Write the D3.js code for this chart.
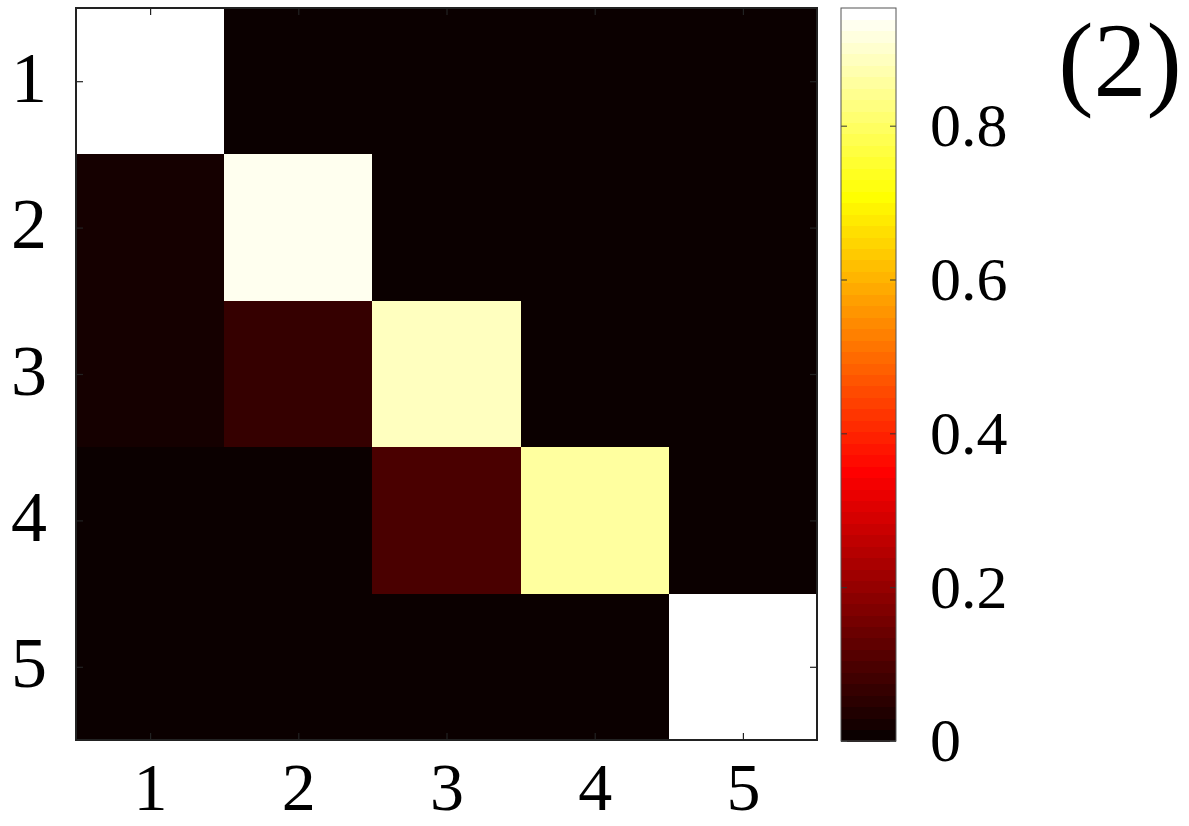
<!DOCTYPE html>
<html>
<head>
<meta charset="utf-8">
<script src="https://cdn.jsdelivr.net/npm/d3@7"></script>
<style>
  body { margin: 0; background: #fff; }
  text { font-family: "Liberation Serif", "Times New Roman", Times, serif; fill: #000; }
</style>
</head>
<body>
<div id="chart"></div>
<script>
// matrix rows/cols labels
const states = [1, 2, 3, 4, 5];
// values (row i, column j)
const matrix = [
  [0.953, 0.006, 0.006, 0.006, 0.006],
  [0.022, 0.930, 0.006, 0.006, 0.006],
  [0.022, 0.068, 0.885, 0.006, 0.006],
  [0.004, 0.004, 0.095, 0.855, 0.006],
  [0.004, 0.004, 0.004, 0.004, 0.945]
];
const colorTicks = [0, 0.2, 0.4, 0.6, 0.8];
const colorMax = 0.953;
const nColors = 64;

// matlab "hot" colormap, index k = 1..m
function hot(k, m) {
  const n = Math.floor(3 / 8 * m);
  const r = Math.min(1, k / n);
  const g = Math.max(0, Math.min(1, (k - n) / n));
  const b = Math.max(0, Math.min(1, (k - 2 * n) / (m - 2 * n)));
  return d3.rgb(r * 255, g * 255, b * 255).toString();
}
function colorOf(v) {
  const k = Math.min(nColors, Math.floor(v / colorMax * nColors) + 1);
  return hot(k, nColors);
}

const width = 1189, height = 826;
const plotL = 76, plotR = 817, plotT = 8, plotB = 740;
const serif = '"Liberation Serif", "Times New Roman", Times, serif';

const svg = d3.select("#chart").append("svg")
    .attr("width", width)
    .attr("height", height);

const x = d3.scaleBand().domain(states).range([plotL, plotR]);
const y = d3.scaleBand().domain(states).range([plotT, plotB]);

// cells
const cells = [];
matrix.forEach((row, i) => row.forEach((v, j) => cells.push({r: states[i], c: states[j], v: v})));

svg.append("g")
  .selectAll("rect")
  .data(cells)
  .join("rect")
    .attr("x", d => x(d.c))
    .attr("y", d => y(d.r))
    .attr("width", x.bandwidth() + 0.5)
    .attr("height", y.bandwidth() + 0.5)
    .attr("fill", d => colorOf(d.v))
    .attr("shape-rendering", "crispEdges");

// axes, ticks inside like matlab
const xc = d3.scaleLinear().domain([0.5, 5.5]).range([plotL, plotR]);
const yc = d3.scaleLinear().domain([0.5, 5.5]).range([plotT, plotB]);

const styleAxis = size => g => {
  g.attr("font-family", serif);
  g.select(".domain").remove();
  g.selectAll(".tick line").attr("stroke", "#222").attr("stroke-width", 1.2);
  g.selectAll(".tick text").style("font-size", size + "px");
};

svg.append("g")
    .attr("transform", `translate(0,${plotB})`)
    .call(d3.axisBottom(xc).tickValues(states).tickFormat(d3.format("d")).tickSize(-7).tickPadding(22))
    .call(styleAxis(68));

svg.append("g")
    .attr("transform", `translate(${plotL},0)`)
    .call(d3.axisLeft(yc).tickValues(states).tickFormat(d3.format("d")).tickSize(-7).tickPadding(29))
    .call(styleAxis(72))
    .call(g => g.selectAll(".tick text").attr("dy", "0.28em"));

svg.append("g")
    .attr("transform", `translate(0,${plotT})`)
    .call(d3.axisTop(xc).tickValues(states).tickFormat("").tickSize(-7))
    .call(styleAxis(72));

svg.append("g")
    .attr("transform", `translate(${plotR},0)`)
    .call(d3.axisRight(yc).tickValues(states).tickFormat("").tickSize(-7))
    .call(styleAxis(72));

svg.append("rect")
    .attr("x", plotL)
    .attr("y", plotT)
    .attr("width", plotR - plotL)
    .attr("height", plotB - plotT)
    .attr("fill", "none")
    .attr("stroke", "#222")
    .attr("stroke-width", 2);

// colorbar
const cbLeft = 841, cbRight = 896, cbTop = 8, cbBottom = 741;
const cy = d3.scaleLinear().domain([0, colorMax]).range([cbBottom, cbTop]);
const bands = d3.range(1, nColors + 1);

svg.append("g")
  .selectAll("rect")
  .data(bands)
  .join("rect")
    .attr("x", cbLeft)
    .attr("width", cbRight - cbLeft)
    .attr("y", k => cy(k / nColors * colorMax))
    .attr("height", (cbBottom - cbTop) / nColors + 0.5)
    .attr("fill", k => hot(k, nColors))
    .attr("shape-rendering", "crispEdges");

svg.append("g")
    .attr("transform", `translate(${cbLeft},0)`)
    .call(d3.axisLeft(cy).tickValues(colorTicks).tickFormat("").tickSize(-6))
    .call(g => g.select(".domain").remove())
    .call(g => g.selectAll(".tick line").attr("stroke", "#333"));

svg.append("g")
    .attr("transform", `translate(${cbRight},0)`)
    .attr("font-family", serif)
    .call(d3.axisRight(cy).tickValues(colorTicks).tickFormat(d => d === 0 ? "0" : d3.format(".1f")(d)).tickSize(-6).tickPadding(34))
    .call(g => g.select(".domain").remove())
    .call(g => g.selectAll(".tick line").attr("stroke", "#333"))
    .call(g => g.selectAll(".tick text").style("font-size", "62px"));

svg.append("rect")
    .attr("x", cbLeft)
    .attr("y", cbTop)
    .attr("width", cbRight - cbLeft)
    .attr("height", cbBottom - cbTop)
    .attr("fill", "none")
    .attr("stroke", "#555")
    .attr("stroke-width", 1);

// panel label
svg.append("text")
    .attr("x", 1120)
    .attr("y", 96)
    .attr("text-anchor", "middle")
    .attr("font-family", serif)
    .style("font-size", "106px")
    .text("(2)");
</script>
</body>
</html>
